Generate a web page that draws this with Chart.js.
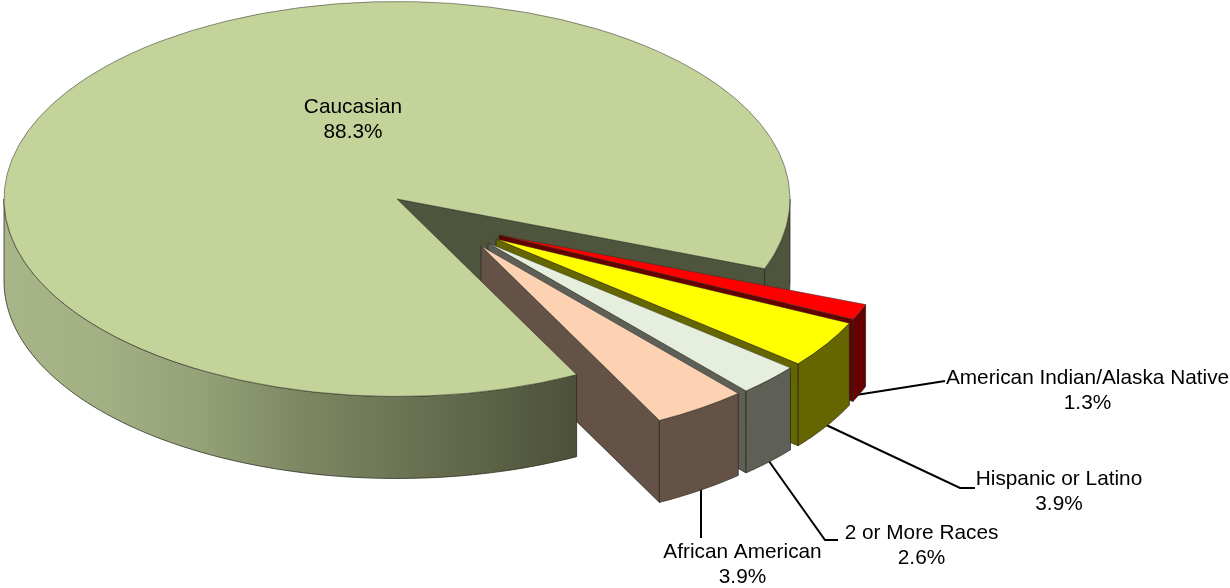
<!DOCTYPE html>
<html><head><meta charset="utf-8">
<script src="https://cdn.jsdelivr.net/npm/chart.js@4"></script>
<style>html,body{margin:0;padding:0;background:#fff;overflow:hidden}#w{width:1230px;height:588px;position:relative}</style>
</head><body><div id="w"><canvas id="c"></canvas></div>
<script>
const categories = ['Caucasian','American Indian/Alaska Native','Hispanic or Latino','2 or More Races','African American'];
const shares = [88.3,1.3,3.9,2.6,3.9];
const topColors = ['#C3D39A','#FF0000','#FFFF00','#E6EEDD','#FCD2B3'];
const wallColors = ['#4F543C','#660000','#666600','#5E6058','#645247'];

const TILT = 0.5025;
const START_DEG = 152.8;
// screen shift of each slice's tip (exploded group) and its radius factor
const shiftX = [0,102,99,91,84];
const shiftY = [0,36,40,44,47];
const sizeF  = [1,0.997,0.995,0.996,0.993];
// label anchors: centre x, first line middle y
const labelX = [353,1087.5,1059,921.5,742.5];
const labelY = [107,378,479,533,552];
// leader polylines per slice
const leaders = [null,
  [[856,395],[945,381]],
  [[822,423],[960,488],[975,488]],
  [[766,457],[825,540],[838,540]],
  [[701,485],[701,538]]
];

const pie3d = {
  id:'pie3d',
  beforeDatasetDraw(chart){
    const ctx = chart.ctx, arcs = chart.getDatasetMeta(0).data;
    const pt = (i,a,f)=>{
      const e=arcs[i], r=e.outerRadius*sizeF[i]*f;
      return [e.x+shiftX[i]+Math.cos(a)*r, e.y+shiftY[i]+Math.sin(a)*r*TILT];
    };
    const DEPTH = 82;
    const low = (p)=>[p[0],p[1]+DEPTH];
    const poly = (pts,fill)=>{
      ctx.beginPath();
      pts.forEach((p,k)=>k?ctx.lineTo(p[0],p[1]):ctx.moveTo(p[0],p[1]));
      ctx.closePath();
      ctx.fillStyle=fill; ctx.fill();
      ctx.strokeStyle='rgba(40,40,30,0.75)'; ctx.lineWidth=1; ctx.stroke();
    };
    const rim = (i,a0,a1,fill)=>{
      const up=[],dn=[],n=80;
      for(let k=0;k<=n;k++){const p=pt(i,a0+(a1-a0)*k/n,1);up.push(p);dn.unshift(low(p));}
      poly(up.concat(dn),fill);
    };
    const edge = (i,a)=>{
      const t=pt(i,a,0), o=pt(i,a,1);
      poly([t,o,low(o),low(t)],wallColors[i]);
    };
    const top = (i)=>{
      const e=arcs[i], s=sizeF[i];
      ctx.save();
      ctx.translate(e.x+shiftX[i],e.y+shiftY[i]);
      ctx.scale(s,s*TILT);
      ctx.translate(-e.x,-e.y);
      e.draw(ctx);
      ctx.restore();
    };
    // leader lines sit behind the walls
    ctx.save();
    ctx.strokeStyle='#000'; ctx.lineWidth=2; ctx.lineJoin='miter';
    leaders.forEach(l=>{ if(!l) return;
      ctx.beginPath(); l.forEach((p,k)=>k?ctx.lineTo(p[0],p[1]):ctx.moveTo(p[0],p[1])); ctx.stroke();
    });
    // main slice: hidden-side walls first
    const m=arcs[0];
    edge(0,m.endAngle);
    rim(0,2*Math.PI,m.endAngle,wallColors[0]);
    // exploded slices back to front
    for(let i=1;i<arcs.length;i++){
      const e=arcs[i];
      edge(i,e.endAngle);
      rim(i,e.startAngle,e.endAngle,wallColors[i]);
      top(i);
    }
    // main slice front rim and top cover the rest
    const g=ctx.createLinearGradient(4,0,576,0);
    g.addColorStop(0,'#A8B588'); g.addColorStop(0.17,'#A3B084'); g.addColorStop(0.34,'#95A278');
    g.addColorStop(0.52,'#7D8863'); g.addColorStop(1,'#4C5139');
    rim(0,m.startAngle,Math.PI,g);
    top(0);
    // labels
    ctx.fillStyle='#000'; ctx.font='20.8px "Liberation Sans", Arial, sans-serif';
    ctx.textAlign='center'; ctx.textBaseline='middle';
    categories.forEach((c,i)=>{
      ctx.fillText(c,labelX[i],labelY[i]);
      ctx.fillText(shares[i].toFixed(1)+'%',labelX[i],labelY[i]+25);
    });
    ctx.restore();
    return false;
  }
};

new Chart(document.getElementById('c'),{
  type:'pie',
  data:{labels:categories,datasets:[{
    data:shares,backgroundColor:topColors,
    borderColor:'rgba(50,50,40,0.7)',borderWidth:1,clip:false
  }]},
  options:{
    responsive:true,maintainAspectRatio:false,animation:false,
    radius:393,rotation:START_DEG,
    layout:{padding:{left:0,top:0,right:436,bottom:190}},
    events:[],
    plugins:{legend:{display:false},tooltip:{enabled:false},title:{display:false}}
  },
  plugins:[pie3d]
});
</script>
</body></html>
